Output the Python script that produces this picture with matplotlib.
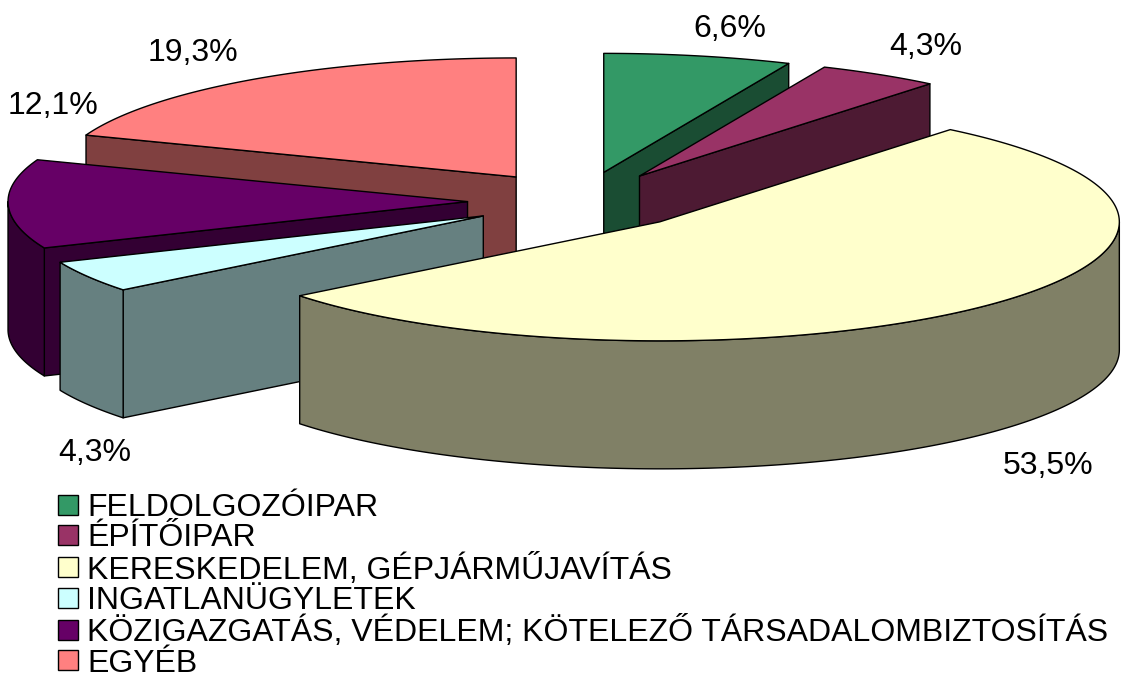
import numpy as np
import matplotlib
matplotlib.use("Agg")
import matplotlib.pyplot as plt
from matplotlib.patches import Polygon, Patch

categories = ["FELDOLGOZÓIPAR", "ÉPÍTŐIPAR", "KERESKEDELEM, GÉPJÁRMŰJAVÍTÁS",
              "INGATLANÜGYLETEK", "KÖZIGAZGATÁS, VÉDELEM; KÖTELEZŐ TÁRSADALOMBIZTOSÍTÁS", "EGYÉB"]
values = [6.6, 4.3, 53.5, 4.3, 12.1, 19.3]
top_colors = ["#339966", "#993366", "#FFFFCC", "#CCFFFF", "#660066", "#FF8080"]
wall_colors = ["#1A4D33", "#4D1A33", "#808066", "#668080", "#330033", "#804040"]
label_xy = [(730, 29), (926, 47), (1048, 466), (95, 453), (53, 106), (193, 53)]

plt.rcParams["font.family"] = ["Liberation Sans", "DejaVu Sans"]
W, H = 1129, 678
fig = plt.figure(figsize=(W / 100, H / 100), dpi=100)
ax = fig.add_axes([0, 0, 1, 1])
ax.set_xlim(0, W)
ax.set_ylim(H, 0)
ax.axis("off")

CX, CY, RX, RY, DEPTH, EXPLODE = 580.5, 201, 459.5, 119, 128, 113
frac = np.array(values) / sum(values)
edges = np.concatenate([[0], np.cumsum(frac)]) * 2 * np.pi
down = np.array([0, DEPTH])
kw = dict(edgecolor="black", linewidth=1.0, joinstyle="round")


def rim(apex, a0, a1):
    t = np.linspace(a0, a1, 200)
    return np.column_stack([apex[0] + RX * np.sin(t), apex[1] - RY * np.cos(t)])


for i in [5, 0, 1, 4, 3, 2]:
    a0, a1 = edges[i], edges[i + 1]
    mid = (a0 + a1) / 2
    apex = np.array([CX + EXPLODE * np.sin(mid), CY - EXPLODE * RY / RX * np.cos(mid)])
    arc = rim(apex, a0, a1)
    wall = wall_colors[i]
    # radial faces that look towards the viewer
    if np.sin(a0) < -1e-9:
        end = arc[0]
        ax.add_patch(Polygon([apex, end, end + down, apex + down], closed=True, facecolor=wall, **kw))
    if np.sin(a1) > 1e-9:
        end = arc[-1]
        ax.add_patch(Polygon([apex, end, end + down, apex + down], closed=True, facecolor=wall, **kw))
    # front part of the rim
    f0, f1 = max(a0, np.pi / 2), min(a1, 3 * np.pi / 2)
    if f1 > f0:
        front = rim(apex, f0, f1)
        ax.add_patch(Polygon(np.vstack([front, (front + down)[::-1]]), closed=True, facecolor=wall, **kw))
    ax.add_patch(Polygon(np.vstack([apex, arc]), closed=True, facecolor=top_colors[i], **kw))

for v, (x, y) in zip(values, label_xy):
    ax.text(x, y, f"{v:.1f}%".replace(".", ","), fontsize=23, ha="center", va="center", color="black")

handles = [Patch(facecolor=c, edgecolor="black", linewidth=1.0) for c in top_colors]
ax.legend(handles, categories, loc="upper left", bbox_to_anchor=(58 / W, 1 - 493 / H),
          frameon=False, fontsize=23, handlelength=0.625, handleheight=0.59,
          handletextpad=0.28, labelspacing=0.01, borderpad=0, borderaxespad=0)
fig.savefig("out.png", dpi=100)
